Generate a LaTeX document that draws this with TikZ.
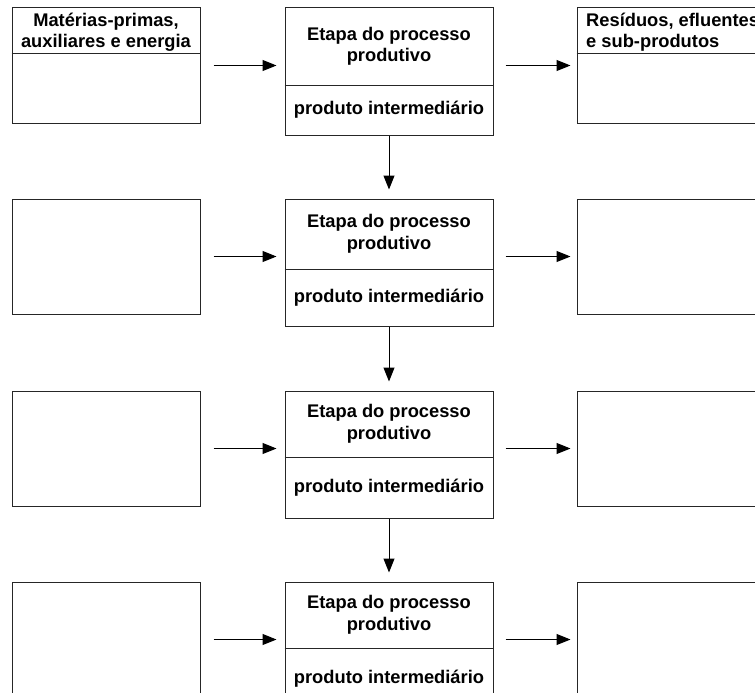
\documentclass[tikz,border=0pt]{standalone}
\usepackage{fontspec}
\setmainfont{Liberation Sans}
\usetikzlibrary{arrows.meta}
\tikzset{
  caixa/.style={draw=black!85, line width=1pt, minimum width=188pt, minimum height=115pt, inner sep=0pt},
  etapa/.style={draw=black!85, line width=1pt, minimum width=208pt, minimum height=127pt, inner sep=0pt},
  rotulo/.style={font=\fontsize{18.3}{21.5}\selectfont\bfseries, align=center, inner sep=0pt},
  seta/.style={line width=1pt, -{Triangle[length=14pt,width=11pt]}},
}
\begin{document}
\begin{tikzpicture}[x=1pt,y=-1pt]
    \useasboundingbox (0,0) rectangle (755,693);
    \clip (0,0) rectangle (755,693);
    \foreach \r/\t/\d in {1/8/77,2/199/70,3/391/66,4/582/66}{% one row per step
      \node[caixa] (entrada\r) at (106,\t+57.5) {};
      \node[etapa] (etapa\r) at (389,\t+63.5) {};
      \node[caixa] (saida\r) at (671,\t+57.5) {};
      \coordinate (div\r) at (389,\t+\d);
      \draw[black!85, line width=1pt] (etapa\r.west |- div\r) -- (etapa\r.east |- div\r);
      \node[rotulo] (titulo\r) at (389,\t+\d/2) {Etapa do processo\\produtivo};
      \node[rotulo] (produto\r) at (389,\t+\d/2+63.5) {produto intermedi\'ario};
      \draw[seta, shorten <=13pt, shorten >=8pt] (entrada\r.east) -- (entrada\r.east -| etapa\r.west);
      \draw[seta, shorten <=12pt, shorten >=6pt] (etapa\r.east |- saida\r.west) -- (saida\r.west);
    }
    \foreach \r/\s in {1/2,2/3,3/4}
      \draw[seta, shorten >=9pt] (etapa\r.south) -- (etapa\s.north);
    % headers of the first row
    \coordinate (cab) at (0,54);
    \draw[black!85, line width=1pt] (entrada1.west |- cab) -- (entrada1.east |- cab);
    \draw[black!85, line width=1pt] (saida1.west |- cab) -- (saida1.east |- cab);
    \node[rotulo] (materias) at (106,32) {Mat\'erias-primas,\\auxiliares e energia};
    \node[rotulo, align=left, anchor=west] (residuos) at (586,32) {Res\'iduos, efluentes\\e sub-produtos};
\end{tikzpicture}
\end{document}
